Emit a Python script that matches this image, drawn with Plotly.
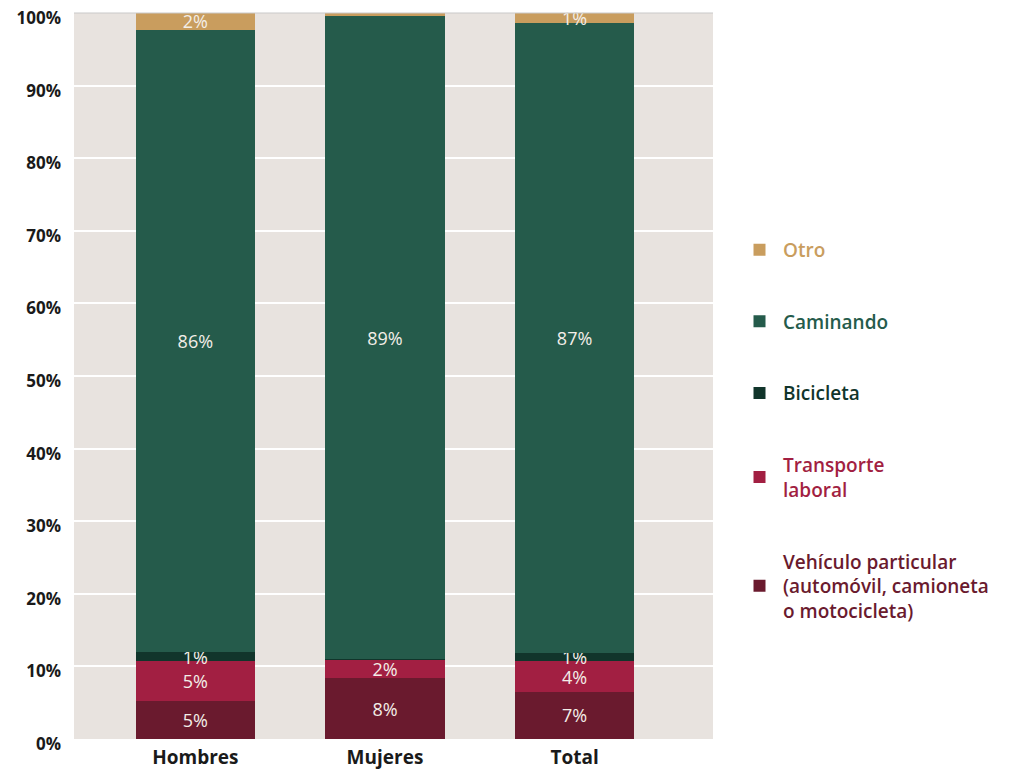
import plotly.graph_objects as go

GRUPOS = ["Hombres", "Mujeres", "Total"]

# porcentajes por modo de traslado (de abajo hacia arriba)
vehiculo = [5.3, 8.4, 6.5]
transporte = [5.4, 2.5, 4.2]
bicicleta = [1.3, 0.1, 1.1]
caminando = [85.7, 88.6, 86.8]
otro = [2.3, 0.4, 1.4]

etiq_vehiculo = ["5%", "8%", "7%"]
etiq_transporte = ["5%", "2%", "4%"]
etiq_bicicleta = ["1%", "", "1%"]
etiq_caminando = ["86%", "89%", "87%"]
etiq_otro = ["2%", "", "1%"]

SERIES = [
    ("Vehículo particular<br>(automóvil, camioneta<br>o motocicleta)", vehiculo, etiq_vehiculo, "#6a1a2e"),
    ("Transporte<br>laboral", transporte, etiq_transporte, "#a21f42"),
    ("Bicicleta", bicicleta, etiq_bicicleta, "#11352b"),
    ("Caminando", caminando, etiq_caminando, "#255b4b"),
    ("Otro", otro, etiq_otro, "#c99d5e"),
]

FONT = "Open Sans"

fig = go.Figure()
for i, (nombre, valores, etiquetas, color) in enumerate(SERIES):
    fig.add_trace(go.Bar(
        x=GRUPOS,
        y=valores,
        name=f"<span style='color:{color}'>{nombre}</span>",
        marker=dict(color=color, line=dict(width=0)),
        text=etiquetas,
        textposition="inside",
        insidetextanchor="middle",
        constraintext="none",
        cliponaxis=False,
        textfont=dict(family=FONT, size=18, color="#f3eee8"),
        width=0.63,
        legendgroup=str(i),
        legendrank=len(SERIES) - i,
        hoverinfo="skip",
    ))

# línea fina gris en el borde superior del área de trazado
fig.add_shape(type="line", xref="paper", yref="paper", x0=0, x1=1, y0=1, y1=1,
              line=dict(color="#c9c9c9", width=1.2))

fig.update_layout(
    barmode="stack",
    paper_bgcolor="white",
    plot_bgcolor="#e8e3df",
    margin=dict(l=66, r=307, t=5, b=31),
    font=dict(family=FONT, size=16, color="#1a1a1a"),
    uniformtext=dict(mode="show", minsize=18),
    showlegend=True,
    legend=dict(
        x=1.036, y=0.70, xanchor="left", yanchor="top",
        traceorder="grouped",
        tracegroupgap=44,
        font=dict(family=FONT, size=19, weight=600),
        bgcolor="rgba(0,0,0,0)",
        itemwidth=37,
    ),
    xaxis=dict(
        range=[-0.64, 2.73],
        showgrid=False,
        showline=False,
        ticks="",
        automargin=False,
        ticklabelstandoff=5,
        ticklabeloverflow="allow",
        tickfont=dict(family=FONT, size=19, color="#1a1a1a", weight=700),
    ),
    yaxis=dict(
        range=[0, 100],
        dtick=10,
        ticksuffix="%",
        gridcolor="white",
        gridwidth=1.5,
        zeroline=False,
        showline=False,
        automargin=False,
        ticklabelstandoff=12,
        ticklabelshift=5,
        ticklabeloverflow="allow",
        tickfont=dict(family=FONT, size=17, color="#1a1a1a", weight=700),
    ),
)

fig.write_html("out.html")
